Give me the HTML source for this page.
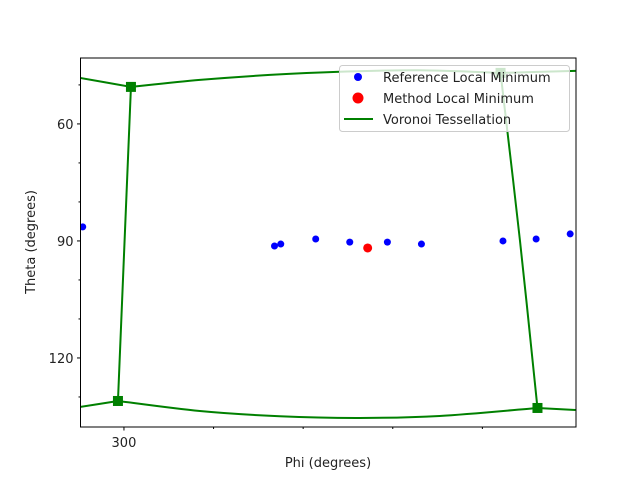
<!DOCTYPE html>
<html><head><meta charset="utf-8"><style>
body{margin:0;background:#fff}
svg{display:block;font-family:"DejaVu Sans","Liberation Sans",sans-serif}
</style></head><body>
<svg id="chart" width="640" height="480">
</svg>
<script>
const refPhi=[295.4,316.8,317.5,321.4,325.2,329.4,333.2,342.3,346.0,349.8];
const refTheta=[86.4,91.3,90.8,89.5,90.3,90.3,90.8,90.0,89.5,88.2];
const methodPhi=[327.2];
const methodTheta=[91.8];
const edgeTopLeftPhi=[295.09,300.78];
const edgeTopLeftTheta=[48.21,50.51];
const edgeTopPhi=[300.78,308.47,316.28,324.08,333.0,342.03];
const edgeTopTheta=[50.51,48.72,47.44,46.61,46.25,46.92];
const edgeTopRightPhi=[342.03,350.39];
const edgeTopRightTheta=[46.92,46.41];
const edgeLeftPhi=[300.78,299.33];
const edgeLeftTheta=[50.51,131.03];
const edgeRightPhi=[342.03,344.2,346.15];
const edgeRightTheta=[46.92,90,132.82];
const edgeBottomLeftPhi=[295.09,299.33];
const edgeBottomLeftTheta=[132.56,131.03];
const edgeBottomPhi=[299.33,308.47,317.39,326.31,335.23,346.15];
const edgeBottomTheta=[131.03,133.6,134.95,135.38,134.87,132.82];
const edgeBottomRightPhi=[346.15,350.39];
const edgeBottomRightTheta=[132.82,133.33];
const vertexPhi=[300.78,299.33,346.15,342.03];
const vertexTheta=[50.51,131.03,132.82,46.92];
const xMajor=[300];
const xMinor=[310,320,330,340];
const yMajor=[60,90,120];
const yMinor=[50,70,80,100,110,130];

const L=80.5,R=576,T=58,B=427;
const X0=295.15,X1=350.45,Y0=43.1,Y1=137.7;
const sx=v=>L+(v-X0)/(X1-X0)*(R-L);
const sy=v=>T+(v-Y0)/(Y1-Y0)*(B-T);
const svg=document.getElementById('chart');
const NS='http://www.w3.org/2000/svg';
function mk(tag,attrs){const e=document.createElementNS(NS,tag);for(const k in attrs)e.setAttribute(k,attrs[k]);svg.appendChild(e);return e;}

const defs=mk('defs',{});
const clip=document.createElementNS(NS,'clipPath');clip.setAttribute('id','pc');defs.appendChild(clip);
const cr=document.createElementNS(NS,'rect');cr.setAttribute('x',L);cr.setAttribute('y',T);cr.setAttribute('width',R-L);cr.setAttribute('height',B-T);clip.appendChild(cr);

const g=mk('g',{'clip-path':'url(#pc)'});


function edge(px,py,name){
  const pts=px.map((v,i)=>[sx(v),sy(py[i])]);
  let d='M'+pts[0][0]+','+pts[0][1];
  for(let i=0;i<pts.length-1;i++){
    const p0=pts[Math.max(i-1,0)],p1=pts[i],p2=pts[i+1],p3=pts[Math.min(i+2,pts.length-1)];
    const c1=[p1[0]+(p2[0]-p0[0])/6,p1[1]+(p2[1]-p0[1])/6];
    const c2=[p2[0]-(p3[0]-p1[0])/6,p2[1]-(p3[1]-p1[1])/6];
    d+=' C'+c1+' '+c2+' '+p2;
  }
  const p=document.createElementNS(NS,'path');
  p.setAttribute('d',d);
  p.setAttribute('fill','none');p.setAttribute('stroke','#008000');p.setAttribute('stroke-width','2');
  
  
  g.appendChild(p);
}
edge(edgeTopLeftPhi,edgeTopLeftTheta,'voronoi-edge-top-left');
edge(edgeTopPhi,edgeTopTheta,'voronoi-edge-top');
edge(edgeTopRightPhi,edgeTopRightTheta,'voronoi-edge-top-right');
edge(edgeLeftPhi,edgeLeftTheta,'voronoi-edge-left');
edge(edgeRightPhi,edgeRightTheta,'voronoi-edge-right');
edge(edgeBottomLeftPhi,edgeBottomLeftTheta,'voronoi-edge-bottom-left');
edge(edgeBottomPhi,edgeBottomTheta,'voronoi-edge-bottom');
edge(edgeBottomRightPhi,edgeBottomRightTheta,'voronoi-edge-bottom-right');
vertexPhi.forEach((v,i)=>{
  const r=document.createElementNS(NS,'rect');
  r.setAttribute('x',sx(v)-5);r.setAttribute('y',sy(vertexTheta[i])-5);r.setAttribute('width',10);r.setAttribute('height',10);r.setAttribute('fill','#008000');
  
  
  g.appendChild(r);
});
refPhi.forEach((v,i)=>{
  const c=document.createElementNS(NS,'circle');
  c.setAttribute('cx',sx(v));c.setAttribute('cy',sy(refTheta[i]));c.setAttribute('r',3.5);c.setAttribute('fill','#0000ff');
  
  
  g.appendChild(c);
});
methodPhi.forEach((v,i)=>{
  const c=document.createElementNS(NS,'circle');
  c.setAttribute('cx',sx(v));c.setAttribute('cy',sy(methodTheta[i]));c.setAttribute('r',4.5);c.setAttribute('fill','#ff0000');
  
  
  g.appendChild(c);
});

const frame=mk('rect',{x:L,y:T,width:R-L,height:B-T,fill:'none',stroke:'#000','stroke-width':1});



xMajor.forEach(v=>{
  const t=mk('line',{x1:sx(v),x2:sx(v),y1:B,y2:B+3.5,stroke:'#000'});
  
  
  const l=mk('text',{x:sx(v),y:B+20,'text-anchor':'middle','font-size':13,fill:'#222'});
  l.textContent=v;
  
  
});
xMinor.forEach(v=>{
  const t=mk('line',{x1:sx(v),x2:sx(v),y1:B,y2:B+2,stroke:'#000'});
  
  
});
yMajor.forEach(v=>{
  const t=mk('line',{x1:L-3.5,x2:L,y1:sy(v),y2:sy(v),stroke:'#000'});
  
  
  const l=mk('text',{x:L-7,y:sy(v)+5,'text-anchor':'end','font-size':13,fill:'#222'});
  l.textContent=v;
  
  
});
yMinor.forEach(v=>{
  const t=mk('line',{x1:L-2,x2:L,y1:sy(v),y2:sy(v),stroke:'#000'});
  
  
});
const xt=mk('text',{x:328,y:467,'text-anchor':'middle','font-size':13,fill:'#222'});
xt.textContent='Phi (degrees)';


const yt=mk('text',{x:35,y:242,'text-anchor':'middle','font-size':13,fill:'#222',transform:'rotate(-90 35 242)'});
yt.textContent='Theta (degrees)';



const lg=mk('g',{});


const lb=document.createElementNS(NS,'rect');
[['x',339.5],['y',65.5],['width',230],['height',66],['rx',3],['fill','rgba(255,255,255,0.8)'],['stroke','#ccc']].forEach(a=>lb.setAttribute(a[0],a[1]));
lg.appendChild(lb);
const entries=[['Reference Local Minimum','ref'],['Method Local Minimum','met'],['Voronoi Tessellation','vor']];
entries.forEach((e,i)=>{
  const y=77+i*21;
  let m;
  if(e[1]==='vor'){m=document.createElementNS(NS,'line');m.setAttribute('x1',344);m.setAttribute('x2',373);m.setAttribute('y1',y);m.setAttribute('y2',y);m.setAttribute('stroke','#008000');m.setAttribute('stroke-width',2);}
  else{m=document.createElementNS(NS,'circle');m.setAttribute('cx',358);m.setAttribute('cy',y);m.setAttribute('r',e[1]==='ref'?4:5.5);m.setAttribute('fill',e[1]==='ref'?'#0000ff':'#ff0000');}
  
  
  lg.appendChild(m);
  const t=document.createElementNS(NS,'text');
  t.setAttribute('x',383);t.setAttribute('y',y+5);t.setAttribute('font-size',13);t.setAttribute('fill','#222');
  t.textContent=e[0];
  
  
  lg.appendChild(t);
});
</script>
</body></html>
